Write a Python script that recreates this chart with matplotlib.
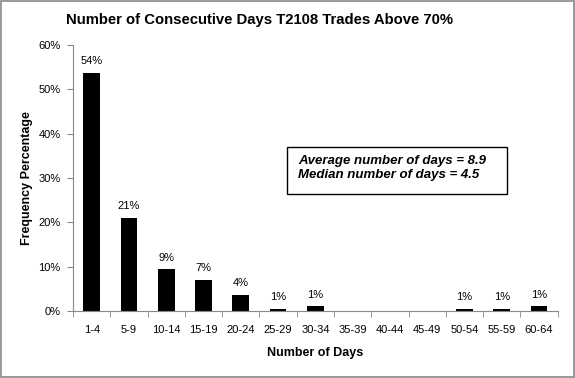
import matplotlib
matplotlib.use("Agg")
import matplotlib.pyplot as plt
from matplotlib.patches import Rectangle

plt.rcParams['font.family'] = ['Liberation Sans', 'DejaVu Sans']

categories = ["1-4", "5-9", "10-14", "15-19", "20-24", "25-29", "30-34",
              "35-39", "40-44", "45-49", "50-54", "55-59", "60-64"]
values = [53.7, 21.1, 9.4, 7.0, 3.6, 0.5, 1.1, 0, 0, 0, 0.5, 0.5, 1.1]
labels = ["54%", "21%", "9%", "7%", "4%", "1%", "1%", "", "", "", "1%", "1%", "1%"]
yticks = [0, 10, 20, 30, 40, 50, 60]

fig = plt.figure(figsize=(5.75, 3.78), dpi=100)
fig.patches.append(Rectangle((0.002, 0.003), 0.996, 0.994, transform=fig.transFigure,
                             fill=False, edgecolor='#888888', linewidth=1.2))
ax = fig.add_axes([0.127, 0.177, 0.843, 0.704])

x = list(range(len(categories)))
ax.bar(x, values, width=0.45, color='black')
for xi, v, lab in zip(x, values, labels):
    if lab:
        ax.text(xi, v + 1.5, lab, ha='center', va='bottom', fontsize=8)

ax.set_xlim(-0.5, len(categories) - 0.5)
ax.set_ylim(0, 60)
ax.set_yticks(yticks)
ax.set_yticklabels([f"{t}%" for t in yticks], fontsize=8)
ax.set_xticks(x)
ax.set_xticklabels(categories, fontsize=8)
ax.tick_params(axis='x', length=0, pad=10)
ax.set_xticks([i + 0.5 for i in range(-1, len(categories))], minor=True)
ax.tick_params(axis='x', which='minor', length=4, color='#888888', direction='out')
ax.tick_params(axis='y', length=4, color='#888888', direction='out', pad=5)

for s in ['top', 'right']:
    ax.spines[s].set_visible(False)
for s in ['left', 'bottom']:
    ax.spines[s].set_color('#888888')

ax.set_xlabel("Number of Days", fontsize=9, fontweight='bold', labelpad=9)
ax.set_ylabel("Frequency Percentage", fontsize=9, fontweight='bold', labelpad=4)
fig.text(0.452, 0.948, "Number of Consecutive Days T2108 Trades Above 70%", fontsize=10.7,
         fontweight='bold', ha='center', va='center')

fig.patches.append(Rectangle((0.499, 0.487), 0.383, 0.124, transform=fig.transFigure,
                             facecolor='white', edgecolor='black', linewidth=1.0))
fig.text(0.518, 0.556, "Average number of days = 8.9\nMedian number of days = 4.5",
         fontsize=9.5, fontweight='bold', style='italic', ha='left', va='center',
         linespacing=1.2)

fig.savefig("out.png", dpi=100)
